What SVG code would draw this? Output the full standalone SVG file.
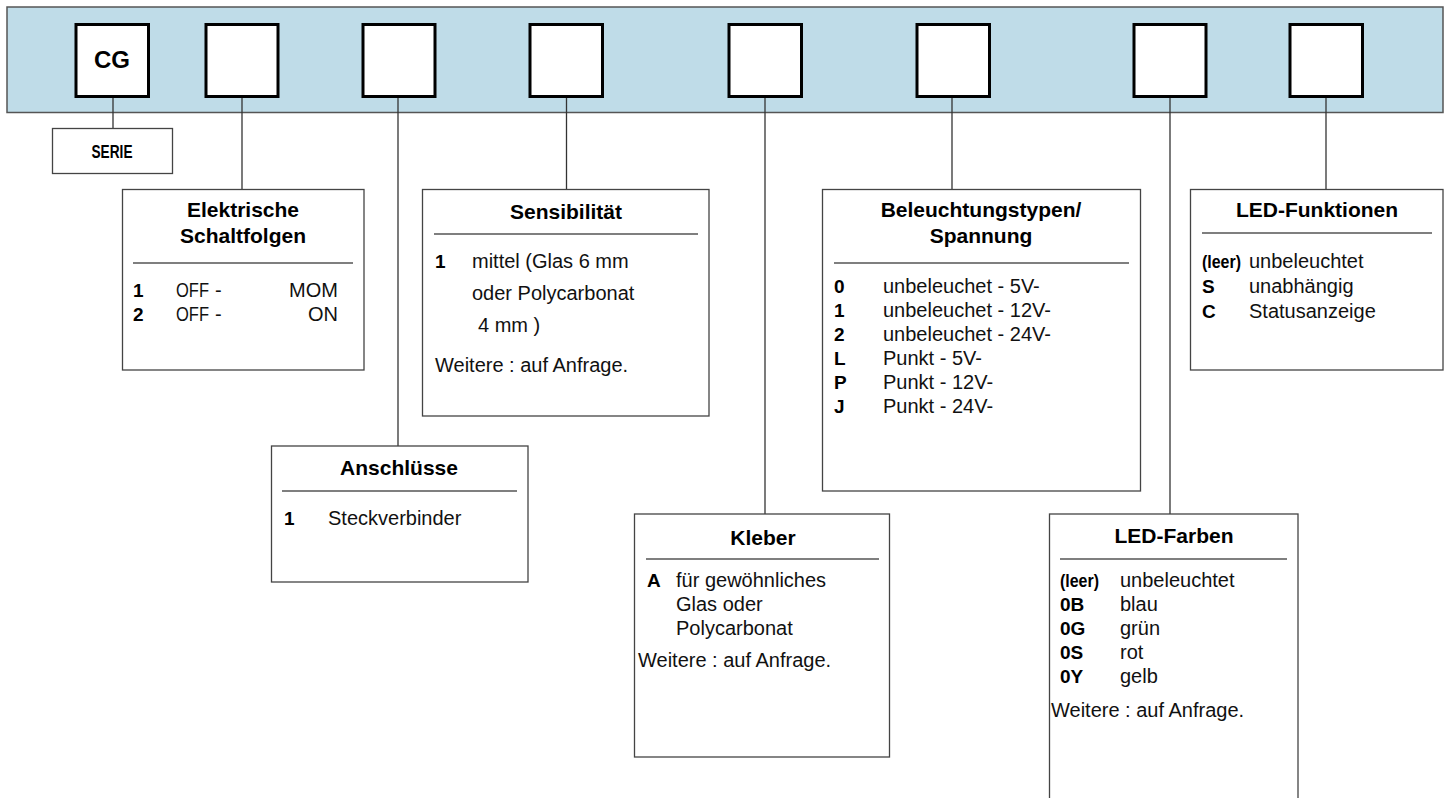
<svg xmlns="http://www.w3.org/2000/svg" width="1451" height="798" viewBox="0 0 1451 798">
<style>
.band{fill:#bfdce8;stroke:#555;stroke-width:1.5}
.slot{fill:#fff;stroke:#000;stroke-width:3}
.box{fill:#fff;stroke:#444;stroke-width:1.3}
.sep{stroke:#555;stroke-width:1.3}
.con{stroke:#333;stroke-width:1.3;fill:none}
.t{font-family:"Liberation Sans",Arial,sans-serif;font-size:21px;font-weight:bold;fill:#000;text-anchor:middle}
.b{font-family:"Liberation Sans",Arial,sans-serif;font-size:20px;fill:#111}
.k{font-family:"Liberation Sans",Arial,sans-serif;font-size:19px;font-weight:bold;fill:#000}
</style>
<rect class="band" x="7" y="7" width="1436" height="105.5"/>
<g id="connectors">
<line class="con" x1="113" y1="97" x2="113" y2="128.5"/>
<line class="con" x1="242" y1="97" x2="242" y2="189.5"/>
<line class="con" x1="398" y1="97" x2="398" y2="446"/>
<line class="con" x1="566.5" y1="97" x2="566.5" y2="189.5"/>
<line class="con" x1="765" y1="97" x2="765" y2="514"/>
<line class="con" x1="952" y1="97" x2="952" y2="189.5"/>
<line class="con" x1="1170" y1="97" x2="1170" y2="514"/>
<line class="con" x1="1326" y1="97" x2="1326" y2="189.5"/>
</g>
<g id="slot-cg"><rect class="slot" x="76" y="24.5" width="72.5" height="72"/>
<text x="112" y="67.5" style="font-family:'Liberation Sans',Arial,sans-serif;font-size:24px;font-weight:bold;text-anchor:middle">CG</text></g>
<g id="slot-2"><rect class="slot" x="206" y="24.5" width="72" height="72"/></g>
<g id="slot-3"><rect class="slot" x="363" y="24.5" width="72" height="72"/></g>
<g id="slot-4"><rect class="slot" x="530" y="24.5" width="72.5" height="72"/></g>
<g id="slot-5"><rect class="slot" x="729" y="24.5" width="72.5" height="72"/></g>
<g id="slot-6"><rect class="slot" x="917" y="24.5" width="72.5" height="72"/></g>
<g id="slot-7"><rect class="slot" x="1134" y="24.5" width="72" height="72"/></g>
<g id="slot-8"><rect class="slot" x="1290" y="24.5" width="72.5" height="72"/></g>

<g id="serie"><rect class="box" x="52.5" y="128.5" width="120" height="45"/>
<text x="112" y="158" textLength="41" lengthAdjust="spacingAndGlyphs" style="font-family:'Liberation Sans',Arial,sans-serif;font-size:18px;font-weight:bold;text-anchor:middle">SERIE</text></g>

<g id="elektrische"><rect class="box" x="122.5" y="189.5" width="241.5" height="180.5"/>
<text class="t" x="243" y="217">Elektrische</text>
<text class="t" x="243" y="243">Schaltfolgen</text>
<line class="sep" x1="133" y1="263" x2="353" y2="263"/>
<text class="k" x="133" y="297">1</text><text class="b" x="176" y="297" textLength="33" lengthAdjust="spacingAndGlyphs">OFF</text><text class="b" x="215" y="297">-</text><text class="b" x="338" y="297" text-anchor="end">MOM</text>
<text class="k" x="133" y="321">2</text><text class="b" x="176" y="321" textLength="33" lengthAdjust="spacingAndGlyphs">OFF</text><text class="b" x="215" y="321">-</text><text class="b" x="338" y="321" text-anchor="end">ON</text>
</g>

<g id="anschluesse"><rect class="box" x="271.5" y="446" width="256.5" height="136"/>
<text class="t" x="399" y="475">Anschlüsse</text>
<line class="sep" x1="282" y1="491" x2="517" y2="491"/>
<text class="k" x="284" y="525">1</text><text class="b" x="328" y="525">Steckverbinder</text>
</g>

<g id="sensibilitaet"><rect class="box" x="422.5" y="189.5" width="286.5" height="226.5"/>
<text class="t" x="566" y="219">Sensibilität</text>
<line class="sep" x1="434" y1="234" x2="698" y2="234"/>
<text class="k" x="435" y="268">1</text><text class="b" x="472" y="268">mittel (Glas 6 mm</text>
<text class="b" x="472" y="300">oder Polycarbonat</text>
<text class="b" x="478" y="332">4 mm )</text>
<text class="b" x="435" y="372">Weitere : auf Anfrage.</text>
</g>

<g id="kleber"><rect class="box" x="634.5" y="514" width="255" height="243"/>
<text class="t" x="763" y="545">Kleber</text>
<line class="sep" x1="646" y1="559" x2="879" y2="559"/>
<text class="k" x="647" y="587">A</text><text class="b" x="676" y="587">für gewöhnliches</text>
<text class="b" x="676" y="611">Glas oder</text>
<text class="b" x="676" y="635">Polycarbonat</text>
<text class="b" x="638" y="667">Weitere : auf Anfrage.</text>
</g>

<g id="beleuchtung"><rect class="box" x="822.5" y="189.5" width="318" height="301.5"/>
<text class="t" x="981" y="217">Beleuchtungstypen/</text>
<text class="t" x="981" y="243">Spannung</text>
<line class="sep" x1="834" y1="263" x2="1129" y2="263"/>
<text class="k" x="834" y="293">0</text><text class="b" x="883" y="293">unbeleuchet - 5V-</text>
<text class="k" x="834" y="317">1</text><text class="b" x="883" y="317">unbeleuchet - 12V-</text>
<text class="k" x="834" y="341">2</text><text class="b" x="883" y="341">unbeleuchet - 24V-</text>
<text class="k" x="834" y="365">L</text><text class="b" x="883" y="365">Punkt - 5V-</text>
<text class="k" x="834" y="389">P</text><text class="b" x="883" y="389">Punkt - 12V-</text>
<text class="k" x="834" y="413">J</text><text class="b" x="883" y="413">Punkt - 24V-</text>
</g>

<g id="led-farben"><rect class="box" x="1049.5" y="514" width="248.5" height="300"/>
<text class="t" x="1174" y="543">LED-Farben</text>
<line class="sep" x1="1060" y1="559" x2="1287" y2="559"/>
<text class="k" x="1060" y="587" textLength="39" lengthAdjust="spacingAndGlyphs">(leer)</text><text class="b" x="1120" y="587">unbeleuchtet</text>
<text class="k" x="1060" y="611">0B</text><text class="b" x="1120" y="611">blau</text>
<text class="k" x="1060" y="635">0G</text><text class="b" x="1120" y="635">grün</text>
<text class="k" x="1060" y="659">0S</text><text class="b" x="1120" y="659">rot</text>
<text class="k" x="1060" y="683">0Y</text><text class="b" x="1120" y="683">gelb</text>
<text class="b" x="1051" y="717">Weitere : auf Anfrage.</text>
</g>

<g id="led-funktionen"><rect class="box" x="1190.5" y="189.5" width="252.5" height="180.5"/>
<text class="t" x="1317" y="217">LED-Funktionen</text>
<line class="sep" x1="1202" y1="233" x2="1432" y2="233"/>
<text class="k" x="1202" y="268" textLength="39" lengthAdjust="spacingAndGlyphs">(leer)</text><text class="b" x="1249" y="268">unbeleuchtet</text>
<text class="k" x="1202" y="293">S</text><text class="b" x="1249" y="293">unabhängig</text>
<text class="k" x="1202" y="318">C</text><text class="b" x="1249" y="318">Statusanzeige</text>
</g>
</svg>
